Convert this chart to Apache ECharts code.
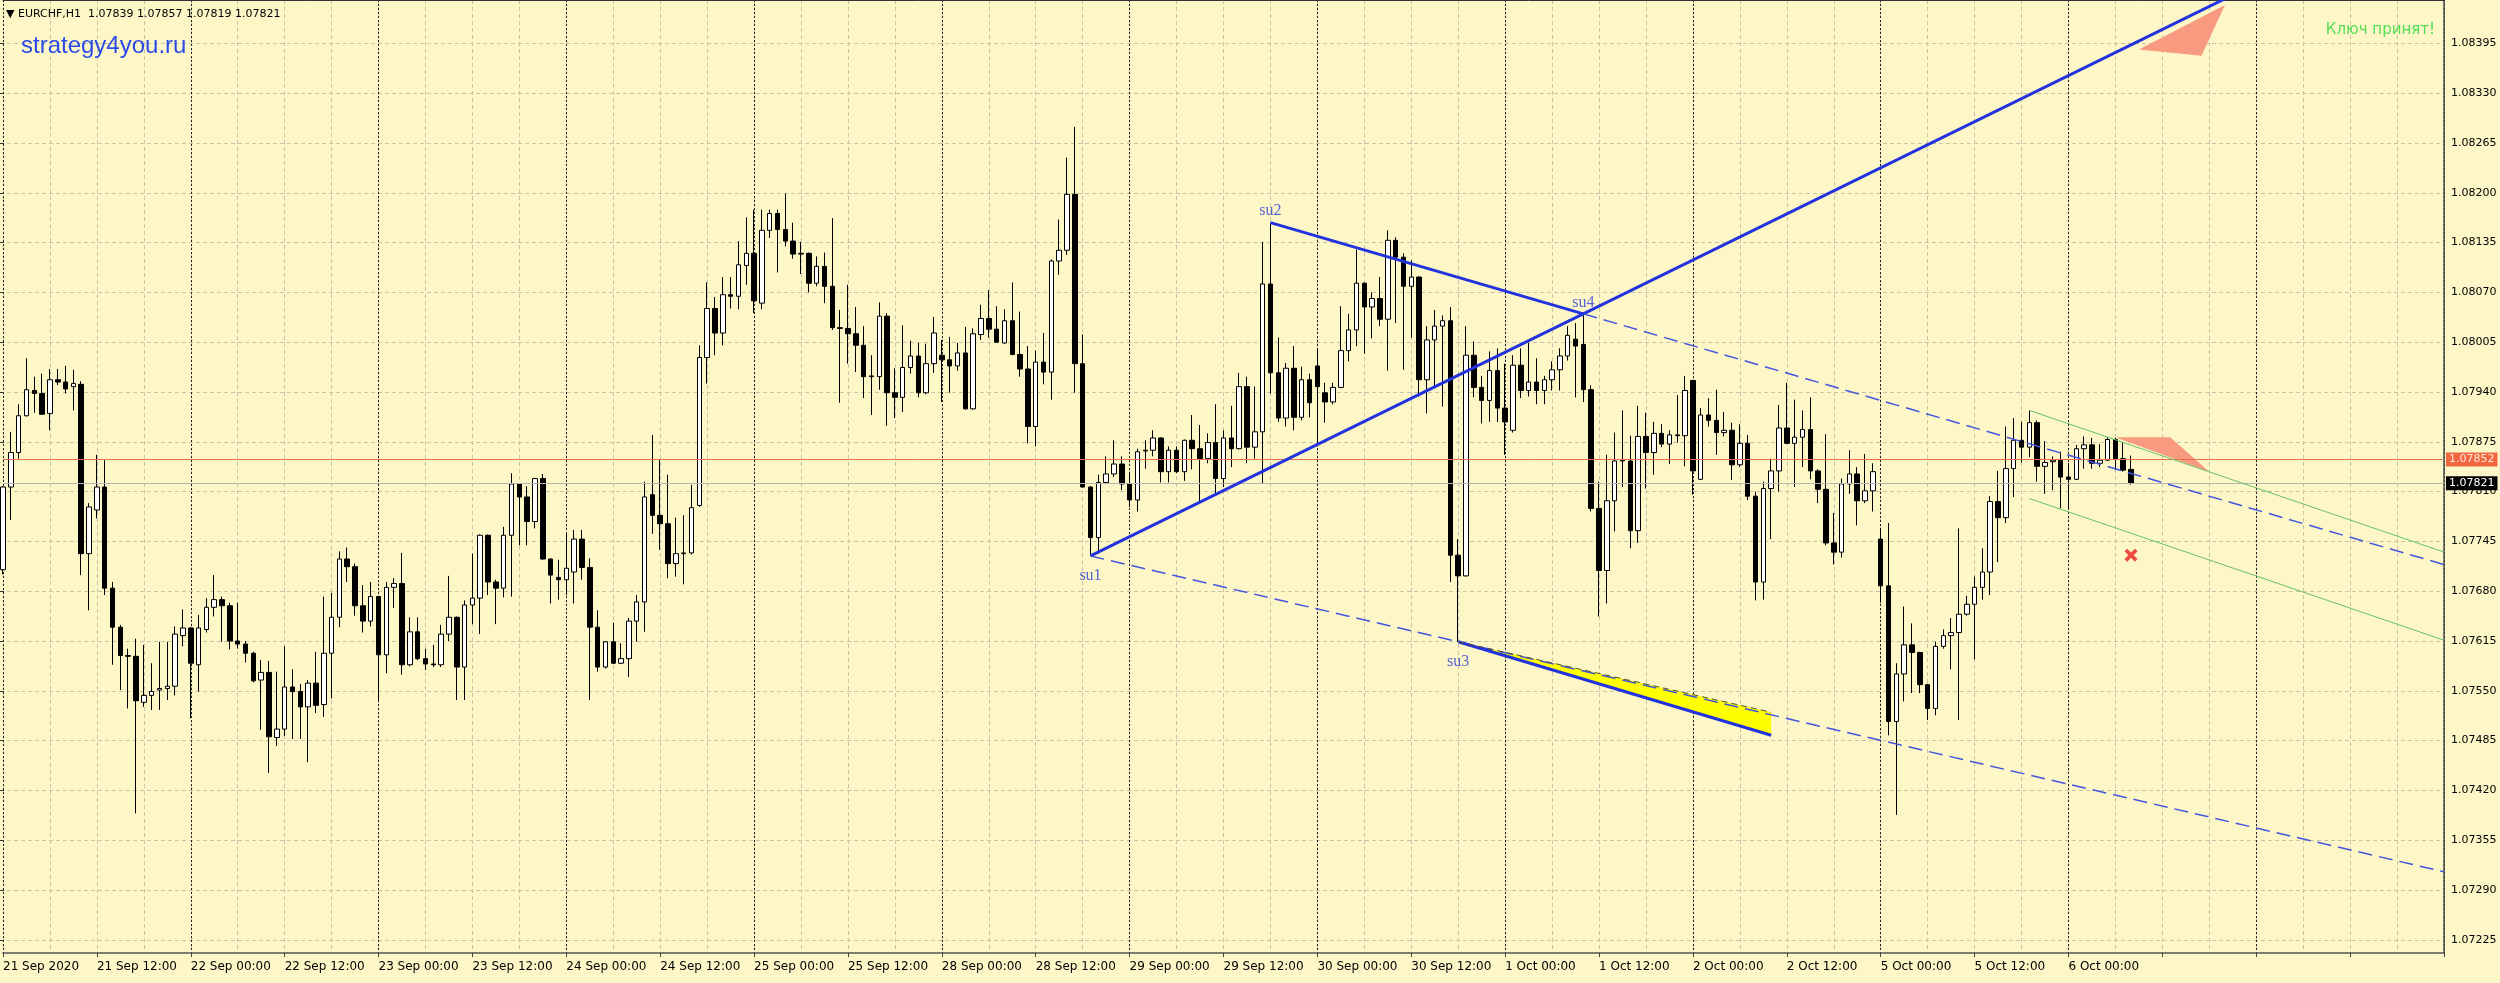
<!DOCTYPE html>
<html><head><meta charset="utf-8">
<script src="https://cdn.jsdelivr.net/npm/echarts@6/dist/echarts.min.js"></script>
<style>html,body{margin:0;padding:0;background:#FDF7C8;}#c{width:2500px;height:983px;}</style>
</head><body><div id="c"></div>
<script>
// ---- data (EURCHF H1, 21 Sep 2020 00:00 .. 6 Oct 2020 08:00) ----
const openP = [
1.07708,1.07816,1.07861,1.07909,1.07942,1.07938,1.07912,1.07956,1.07953,1.07947,
1.07950,1.07729,1.07786,1.07816,1.07684,1.07633,1.07596,1.07595,1.07535,1.07544,
1.07551,1.07553,1.07556,1.07622,1.07632,1.07584,1.07630,1.07659,1.07669,1.07661,
1.07615,1.07611,1.07599,1.07564,1.07574,1.07489,1.07500,1.07555,1.07549,1.07529,
1.07560,1.07532,1.07599,1.07646,1.07722,1.07712,1.07661,1.07641,1.07673,1.07597,
1.07685,1.07690,1.07584,1.07627,1.07592,1.07585,1.07584,1.07624,1.07646,1.07581,
1.07662,1.07671,1.07753,1.07692,1.07684,1.07753,1.07820,1.07803,1.07771,1.07827,
1.07722,1.07698,1.07695,1.07705,1.07748,1.07711,1.07633,1.07581,1.07614,1.07586,
1.07592,1.07641,1.07666,1.07806,1.07779,1.07768,1.07716,1.07729,1.07730,1.07792,
1.07985,1.08049,1.08017,1.08067,1.08065,1.08105,1.08121,1.08056,1.08151,1.08173,
1.08152,1.08137,1.08120,1.08121,1.08082,1.08104,1.08078,1.08024,1.08023,1.08016,
1.08001,1.07960,1.07960,1.08039,1.07939,1.07933,1.07972,1.07987,1.07939,1.07977,
1.07988,1.07982,1.07974,1.07991,1.07918,1.08015,1.08036,1.08022,1.08004,1.08033,
1.07989,1.07970,1.07895,1.07979,1.07966,1.08111,1.08125,1.08198,1.07977,1.07816,
1.07750,1.07822,1.07833,1.07846,1.07820,1.07799,1.07863,1.07864,1.07880,1.07836,
1.07864,1.07836,1.07877,1.07866,1.07853,1.07874,1.07827,1.07880,1.07866,1.07947,
1.07868,1.07888,1.08081,1.07965,1.07906,1.07971,1.07907,1.07956,1.07974,1.07939,
1.07927,1.07946,1.07994,1.08021,1.08082,1.08051,1.08062,1.08035,1.08138,1.08116,
1.08078,1.08090,1.07956,1.08008,1.08026,1.08033,1.07727,1.07700,1.07988,1.07946,
1.07929,1.07968,1.07919,1.07890,1.07975,1.07942,1.07953,1.07942,1.07956,1.07969,
1.07987,1.08009,1.08002,1.07943,1.07788,1.07707,1.07798,1.07850,1.07850,1.07759,
1.07882,1.07861,1.07886,1.07872,1.07884,1.07883,1.07955,1.07826,1.07910,1.07903,
1.07887,1.07890,1.07845,1.07873,1.07804,1.07692,1.07814,1.07837,1.07893,1.07873,
1.07881,1.07891,1.07837,1.07813,1.07743,1.07731,1.07820,1.07833,1.07798,1.07811,
1.07748,1.07687,1.07510,1.07572,1.07610,1.07600,1.07558,1.07527,1.07608,1.07622,
1.07626,1.07650,1.07663,1.07685,1.07705,1.07797,1.07776,1.07840,1.07877,1.07868,
1.07900,1.07843,1.07849,1.07851,1.07829,1.07826,1.07866,1.07871,1.07847,1.07851,
1.07878,1.07853,1.07839];
const highP = [
1.07817,1.07888,1.07924,1.07984,1.07960,1.07964,1.07970,1.07970,1.07974,1.07969,
1.07954,1.07795,1.07858,1.07851,1.07692,1.07636,1.07605,1.07618,1.07610,1.07586,
1.07614,1.07614,1.07634,1.07656,1.07633,1.07649,1.07671,1.07701,1.07673,1.07665,
1.07665,1.07615,1.07601,1.07590,1.07589,1.07575,1.07608,1.07578,1.07559,1.07564,
1.07601,1.07673,1.07678,1.07732,1.07737,1.07716,1.07688,1.07692,1.07674,1.07692,
1.07697,1.07730,1.07646,1.07646,1.07605,1.07610,1.07636,1.07700,1.07647,1.07668,
1.07729,1.07754,1.07754,1.07695,1.07764,1.07834,1.07821,1.07817,1.07828,1.07833,
1.07723,1.07721,1.07755,1.07760,1.07760,1.07723,1.07655,1.07615,1.07639,1.07612,
1.07645,1.07675,1.07823,1.07884,1.07852,1.07832,1.07776,1.07779,1.07819,1.08001,
1.08083,1.08064,1.08090,1.08090,1.08137,1.08168,1.08178,1.08178,1.08178,1.08178,
1.08199,1.08161,1.08136,1.08122,1.08117,1.08122,1.08167,1.08047,1.08080,1.08051,
1.08026,1.07988,1.08057,1.08043,1.07971,1.08027,1.08007,1.08004,1.08003,1.08038,
1.08008,1.08012,1.08004,1.08025,1.08023,1.08054,1.08073,1.08052,1.08048,1.08083,
1.08045,1.08000,1.07994,1.08017,1.08113,1.08165,1.08246,1.08286,1.08015,1.07817,
1.07832,1.07856,1.07877,1.07856,1.07834,1.07866,1.07877,1.07890,1.07881,1.07869,
1.07869,1.07878,1.07910,1.07897,1.07886,1.07924,1.07890,1.07922,1.07965,1.07960,
1.07947,1.08136,1.08161,1.08011,1.07978,1.08000,1.07973,1.07964,1.07997,1.07952,
1.07952,1.08052,1.08042,1.08126,1.08083,1.08070,1.08090,1.08151,1.08142,1.08121,
1.08112,1.08091,1.08026,1.08047,1.08040,1.08051,1.07748,1.08026,1.08006,1.07961,
1.07993,1.07997,1.07977,1.07988,1.07997,1.08004,1.07984,1.07961,1.07980,1.07997,
1.08026,1.08030,1.08042,1.07949,1.07823,1.07858,1.07887,1.07916,1.07883,1.07922,
1.07913,1.07901,1.07898,1.07890,1.07936,1.07961,1.07956,1.07919,1.07932,1.07943,
1.07914,1.07900,1.07898,1.07884,1.07810,1.07823,1.07853,1.07923,1.07952,1.07930,
1.07916,1.07933,1.07839,1.07885,1.07782,1.07827,1.07864,1.07842,1.07859,1.07847,
1.07762,1.07769,1.07586,1.07660,1.07638,1.07601,1.07559,1.07614,1.07630,1.07645,
1.07762,1.07674,1.07699,1.07736,1.07804,1.07837,1.07895,1.07906,1.07901,1.07916,
1.07903,1.07876,1.07856,1.07862,1.07847,1.07871,1.07882,1.07880,1.07872,1.07881,
1.07880,1.07874,1.07857];
const lowP = [
1.07702,1.07773,1.07853,1.07908,1.07913,1.07911,1.07890,1.07949,1.07938,1.07916,
1.07701,1.07655,1.07775,1.07675,1.07584,1.07551,1.07527,1.07390,1.07529,1.07525,
1.07525,1.07538,1.07544,1.07608,1.07514,1.07549,1.07626,1.07647,1.07614,1.07604,
1.07605,1.07587,1.07561,1.07499,1.07443,1.07478,1.07491,1.07487,1.07487,1.07457,
1.07521,1.07516,1.07540,1.07633,1.07692,1.07648,1.07626,1.07634,1.07538,1.07573,
1.07658,1.07571,1.07582,1.07590,1.07577,1.07581,1.07581,1.07615,1.07538,1.07538,
1.07637,1.07624,1.07675,1.07637,1.07672,1.07673,1.07740,1.07740,1.07762,1.07721,
1.07664,1.07669,1.07675,1.07664,1.07695,1.07538,1.07575,1.07579,1.07585,1.07585,
1.07568,1.07614,1.07627,1.07755,1.07734,1.07697,1.07699,1.07689,1.07728,1.07790,
1.07951,1.07988,1.08001,1.08049,1.08048,1.08080,1.08043,1.08048,1.08141,1.08096,
1.08130,1.08114,1.08094,1.08070,1.08078,1.08056,1.08021,1.07926,1.07977,1.07966,
1.07932,1.07910,1.07943,1.07896,1.07906,1.07914,1.07964,1.07933,1.07937,1.07965,
1.07927,1.07939,1.07968,1.07917,1.07917,1.08008,1.08011,1.08004,1.08003,1.07988,
1.07960,1.07873,1.07869,1.07950,1.07930,1.08093,1.08119,1.07939,1.07815,1.07726,
1.07729,1.07821,1.07829,1.07812,1.07790,1.07784,1.07840,1.07856,1.07822,1.07822,
1.07834,1.07824,1.07839,1.07795,1.07847,1.07806,1.07816,1.07842,1.07865,1.07847,
1.07853,1.07820,1.07938,1.07901,1.07895,1.07890,1.07903,1.07907,1.07869,1.07900,
1.07924,1.07945,1.07980,1.08000,1.07990,1.08010,1.08026,1.07968,1.08030,1.07969,
1.08011,1.07934,1.07912,1.07947,1.07921,1.07692,1.07614,1.07699,1.07933,1.07899,
1.07901,1.07901,1.07858,1.07887,1.07932,1.07934,1.07924,1.07924,1.07942,1.07942,
1.07981,1.07933,1.07927,1.07784,1.07647,1.07664,1.07758,1.07816,1.07736,1.07743,
1.07814,1.07832,1.07868,1.07846,1.07874,1.07843,1.07806,1.07825,1.07895,1.07858,
1.07882,1.07825,1.07842,1.07799,1.07668,1.07669,1.07748,1.07810,1.07872,1.07816,
1.07842,1.07826,1.07795,1.07740,1.07715,1.07724,1.07807,1.07766,1.07795,1.07784,
1.07665,1.07492,1.07388,1.07536,1.07547,1.07547,1.07512,1.07518,1.07605,1.07578,
1.07512,1.07648,1.07591,1.07669,1.07675,1.07718,1.07769,1.07803,1.07848,1.07855,
1.07823,1.07807,1.07812,1.07788,1.07788,1.07825,1.07840,1.07840,1.07842,1.07850,
1.07838,1.07836,1.07819];
const closeP = [
1.07816,1.07861,1.07909,1.07943,1.07938,1.07911,1.07956,1.07953,1.07944,1.07951,
1.07729,1.07790,1.07816,1.07684,1.07633,1.07596,1.07595,1.07537,1.07544,1.07549,
1.07553,1.07556,1.07624,1.07632,1.07586,1.07632,1.07659,1.07669,1.07661,1.07615,
1.07611,1.07599,1.07563,1.07574,1.07490,1.07500,1.07555,1.07549,1.07529,1.07560,
1.07531,1.07599,1.07646,1.07722,1.07712,1.07661,1.07641,1.07673,1.07597,1.07685,
1.07690,1.07584,1.07627,1.07592,1.07585,1.07584,1.07624,1.07646,1.07581,1.07662,
1.07671,1.07753,1.07692,1.07684,1.07753,1.07820,1.07803,1.07771,1.07827,1.07722,
1.07701,1.07695,1.07710,1.07748,1.07711,1.07633,1.07581,1.07614,1.07586,1.07592,
1.07641,1.07666,1.07803,1.07779,1.07768,1.07716,1.07729,1.07730,1.07789,1.07985,
1.08049,1.08017,1.08067,1.08065,1.08106,1.08121,1.08059,1.08151,1.08173,1.08152,
1.08137,1.08120,1.08121,1.08082,1.08104,1.08078,1.08024,1.08023,1.08016,1.08001,
1.07960,1.07961,1.08039,1.07939,1.07933,1.07972,1.07987,1.07939,1.07977,1.08017,
1.07982,1.07974,1.07991,1.07918,1.08016,1.08036,1.08022,1.08005,1.08033,1.07989,
1.07970,1.07895,1.07979,1.07966,1.08111,1.08125,1.08198,1.07977,1.07816,1.07750,
1.07822,1.07833,1.07846,1.07820,1.07799,1.07862,1.07864,1.07880,1.07836,1.07864,
1.07836,1.07877,1.07866,1.07853,1.07874,1.07827,1.07880,1.07866,1.07947,1.07868,
1.07888,1.08081,1.07965,1.07906,1.07971,1.07907,1.07956,1.07926,1.07947,1.07927,
1.07946,1.07994,1.08021,1.08082,1.08051,1.08062,1.08035,1.08138,1.08116,1.08078,
1.08090,1.07956,1.08008,1.08026,1.08033,1.07727,1.07700,1.07988,1.07946,1.07929,
1.07968,1.07919,1.07901,1.07975,1.07942,1.07953,1.07942,1.07956,1.07969,1.07987,
1.08014,1.08000,1.07943,1.07788,1.07707,1.07798,1.07850,1.07851,1.07759,1.07882,
1.07861,1.07886,1.07872,1.07884,1.07883,1.07942,1.07837,1.07910,1.07903,1.07887,
1.07890,1.07845,1.07873,1.07804,1.07692,1.07814,1.07837,1.07893,1.07873,1.07881,
1.07891,1.07837,1.07813,1.07743,1.07731,1.07820,1.07833,1.07798,1.07811,1.07836,
1.07687,1.07510,1.07572,1.07610,1.07600,1.07558,1.07527,1.07608,1.07622,1.07626,
1.07650,1.07663,1.07685,1.07705,1.07797,1.07776,1.07840,1.07877,1.07868,1.07900,
1.07843,1.07848,1.07851,1.07829,1.07826,1.07866,1.07871,1.07847,1.07851,1.07878,
1.07853,1.07838,1.07821];

// time-axis tick labels, one every 12 bars (H1)
const xTickLabels = ['21 Sep 2020','21 Sep 12:00','22 Sep 00:00','22 Sep 12:00','23 Sep 00:00','23 Sep 12:00',
 '24 Sep 00:00','24 Sep 12:00','25 Sep 00:00','25 Sep 12:00','28 Sep 00:00','28 Sep 12:00','29 Sep 00:00',
 '29 Sep 12:00','30 Sep 00:00','30 Sep 12:00','1 Oct 00:00','1 Oct 12:00','2 Oct 00:00','2 Oct 12:00',
 '5 Oct 00:00','5 Oct 12:00','6 Oct 00:00'];
const barSlots = 313;           // visible bar slots incl. empty future space
const labelStep = 12, gridStep = 6, daySep = 24;
const priceTickMin = 1.07225, priceTickMax = 1.08395, priceTickStep = 0.00065;
const alertLevel = 1.07852;

// swing points [bar index, price]
const su1 = [139, 1.07726], su2 = [162, 1.08161], su3 = [186, 1.07614], su4 = [202, 1.08042];
const su3Ray = [226, 1.07492];
const su3Upper = [225.6, 1.07522];
const greenUp = [259, 1.07916], greenLow = [259, 1.07801];
const greenSlope = -0.0000349;     // price per bar
const salmonTop = [272.8, 1.08387, 283.6, 1.08445, 280.9, 1.08379];
const salmonMid = [269.8, 1.07881, 277.4, 1.07881, 281.9, 1.07836];
const crossMark = [271.8, 1.07727];

// ---- chart ----
const lastI = closeP.length - 1;
const rayEnd = barSlots - 1;
function ext(a, b, x) { return a[1] + (b[1] - a[1]) * (x - a[0]) / (b[0] - a[0]); }
const candles = openP.map((o, i) => [o, closeP[i], lowP[i], highP[i]]);
const cats = Array.from({length: barSlots}, (_, i) => String(i));

function seg(points, color, width, type, z) {
  return {type: 'line', xAxisIndex: 0, yAxisIndex: 0, data: points, symbol: 'none', silent: true,
    clip: true, animation: false, z: z || 5, lineStyle: {color: color, width: width, type: type || 'solid'}};
}
function poly(vals, color) {
  return {type: 'custom', xAxisIndex: 0, yAxisIndex: 0, silent: true, animation: false, z: 4,
    encode: {x: [0, 2, 4], y: [1, 3, 5]}, data: [vals],
    renderItem: function (params, api) {
      const pts = [];
      for (let k = 0; k < 3; k++) pts.push(api.coord([api.value(2 * k), api.value(2 * k + 1)]));
      return {type: 'polygon', shape: {points: pts}, style: {fill: color}};
    }};
}

const blue = '#2233DD', blueDash = '#4455DD', green = '#66C266', salmon = '#F79A80';
const serif = "'Liberation Serif','DejaVu Serif',serif";
const sans = "'DejaVu Sans','Liberation Sans',sans-serif";

const chart = echarts.init(document.getElementById('c'), null, {width: 2500, height: 983});
chart.setOption({
  animation: false,
  backgroundColor: '#FDF7C8',
  title: [
    {text: '\u25BC EURCHF,H1  ' + [openP[lastI], highP[lastI], lowP[lastI], closeP[lastI]].map(v => v.toFixed(5)).join(' '),
      left: 1, top: 4, textStyle: {fontSize: 11, fontWeight: 'normal', color: '#000', fontFamily: sans}},
    {text: 'strategy4you.ru', left: 16, top: 29,
      textStyle: {fontSize: 24, fontWeight: 'normal', color: '#2C4BE6', fontFamily: "'Liberation Sans',Arial,sans-serif"}},
    {text: 'Ключ принят!', right: 60, top: 18,
      textStyle: {fontSize: 15, fontWeight: 'normal', color: '#55DD55', fontFamily: sans}}
  ],
  grid: [
    {left: 0, top: 0, width: 2444, height: 953},
    {left: 0, top: 43.4, width: 2444, height: 896.4}
  ],
  xAxis: [
    {type: 'category', gridIndex: 0, data: cats, boundaryGap: false, position: 'bottom',
      axisLine: {show: true, lineStyle: {color: '#555', width: 1.5}},
      axisTick: {show: true, length: 4, interval: labelStep - 1, lineStyle: {color: '#444'}},
      axisLabel: {show: true, interval: labelStep - 1, align: 'left', margin: 8, fontSize: 12, color: '#000',
        fontFamily: sans,
        formatter: function (v, idx) { return xTickLabels[idx / labelStep] || ''; }},
      splitLine: {show: true, interval: function (idx) { return idx % gridStep === 0; },
        lineStyle: {color: '#C8C3A6', width: 1, type: [4, 3]}}},
    {type: 'category', gridIndex: 0, data: cats, boundaryGap: false, position: 'top',
      axisLine: {show: true, lineStyle: {color: '#333', width: 1}},
      axisTick: {show: false}, axisLabel: {show: false},
      splitLine: {show: true, interval: function (idx) { return idx % daySep === 0; },
        lineStyle: {color: '#222', width: 1, type: [2, 2]}}},
    {type: 'value', gridIndex: 1, min: 0, max: 1, show: false}
  ],
  yAxis: [
    {type: 'value', gridIndex: 0, position: 'right', min: 1.0720777, max: 1.0845165,
      axisLine: {show: true, lineStyle: {color: '#4a4a4a', width: 1.5}},
      axisTick: {show: false}, axisLabel: {show: false}, splitLine: {show: false}},
    {type: 'value', gridIndex: 1, position: 'right', min: priceTickMin, max: priceTickMax, interval: priceTickStep,
      axisLine: {show: false},
      axisTick: {show: true, length: 4, lineStyle: {color: '#333'}},
      axisLabel: {show: true, margin: 7, fontSize: 11, color: '#000', fontFamily: sans,
        formatter: function (v) { return v.toFixed(5); }},
      splitLine: {show: true, lineStyle: {color: '#C8C3A6', width: 1, type: [4, 3]}}}
  ],
  series: [
    {type: 'candlestick', xAxisIndex: 0, yAxisIndex: 0, data: candles, barWidth: 5, z: 3,
      itemStyle: {color: '#FFFFFF', color0: '#000000', borderColor: '#000000', borderColor0: '#000000', borderWidth: 1},
      markLine: {symbol: 'none', silent: true, animation: false, precision: 5,
        data: [
          {yAxis: alertLevel, lineStyle: {color: '#E8734E', width: 1, type: 'solid'},
            label: {show: true, position: 'end', distance: 2, formatter: function (p) { return p.value.toFixed(5); },
              color: '#FFE8DC', backgroundColor: '#F2673F', padding: [2, 3, 1, 3], fontSize: 11, fontFamily: sans}},
          {yAxis: closeP[lastI], lineStyle: {color: '#B5B5B5', width: 1, type: 'solid'},
            label: {show: true, position: 'end', distance: 2, formatter: function (p) { return p.value.toFixed(5); },
              color: '#FFFFFF', backgroundColor: '#000000', padding: [2, 3, 1, 3], fontSize: 11, fontFamily: sans}}
        ]}},
    poly(salmonTop, salmon),
    poly(salmonMid, salmon),
    poly([su3[0], su3[1], su3Upper[0], su3Upper[1], su3Ray[0], su3Ray[1]], '#FFFF00'),
    seg([su3, su3Upper], '#55552A', 1, [6, 4], 6),
    seg([su1, [rayEnd, ext(su1, su4, rayEnd)]], blue, 3),
    seg([su2, su4], blue, 3),
    seg([su4, [rayEnd, ext(su2, su4, rayEnd)]], blueDash, 1.5, [14, 7]),
    seg([su1, [rayEnd, ext(su1, su3, rayEnd)]], blueDash, 1.5, [14, 7]),
    seg([su3, su3Ray], blue, 3),
    seg([greenUp, [rayEnd, greenUp[1] + greenSlope * (rayEnd - greenUp[0])]], green, 1),
    seg([greenLow, [rayEnd, greenLow[1] + greenSlope * (rayEnd - greenLow[0])]], green, 1),
    {type: 'scatter', xAxisIndex: 0, yAxisIndex: 0, silent: true, animation: false, z: 7,
      symbol: 'path://M2,0 L5,3 L8,0 L10,2 L7,5 L10,8 L8,10 L5,7 L2,10 L0,8 L3,5 L0,2 Z',
      symbolSize: 13, itemStyle: {color: '#E81E1E'}, data: [crossMark]},
    {type: 'scatter', xAxisIndex: 0, yAxisIndex: 0, silent: true, animation: false, z: 7,
      symbolSize: 0,
      label: {show: true, formatter: '{b}', color: '#2A3ED8', fontSize: 16, fontFamily: serif},
      data: [
        {name: 'su1', value: su1, label: {position: 'bottom', distance: 12}},
        {name: 'su2', value: su2, label: {position: 'top', distance: 4}},
        {name: 'su3', value: su3, label: {position: 'bottom', distance: 12}},
        {name: 'su4', value: su4, label: {position: 'top', distance: 3}}
      ]}
  ]
});
</script></body></html>
